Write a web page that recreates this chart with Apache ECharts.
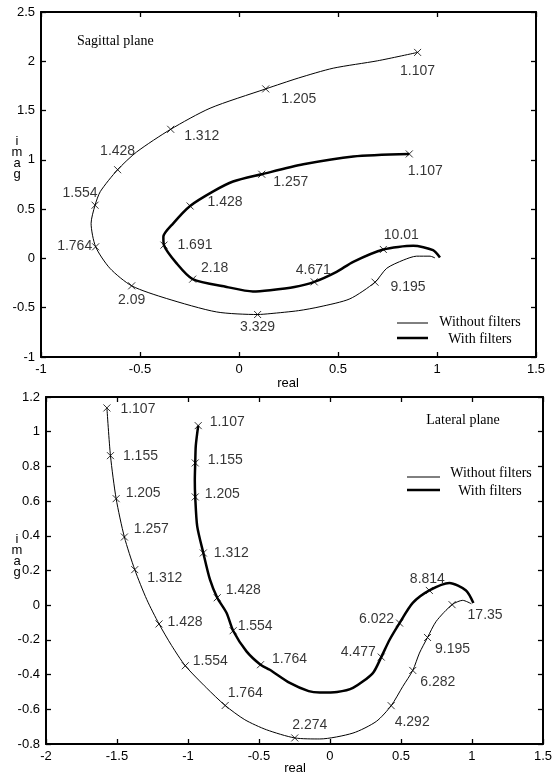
<!DOCTYPE html>
<html>
<head>
<meta charset="utf-8">
<script src="https://cdn.jsdelivr.net/npm/echarts@6/dist/echarts.min.js"></script>
<style>
html,body{margin:0;padding:0;background:#fff;}
#chart{width:555px;height:778px;}
</style>
</head>
<body>
<div id="chart"></div>
<script>
// ---------- Sagittal plane (top) ----------
const sagCurveWithout = [[0.902,2.09],[0.70,2.005],[0.476,1.93],[0.30,1.83],[0.135,1.72],[-0.146,1.524],[-0.345,1.31],[-0.517,1.08],[-0.613,0.90],[-0.70,0.68],[-0.727,0.54],[-0.747,0.356],[-0.724,0.118],[-0.652,-0.10],[-0.542,-0.278],[-0.365,-0.407],[-0.113,-0.543],[0.094,-0.569],[0.157,-0.56],[0.30,-0.53],[0.409,-0.49],[0.56,-0.41],[0.687,-0.241],[0.746,-0.10],[0.83,-0.017],[0.897,0.023],[0.965,0.023],[0.99,0.005]];
const sagMarksWithout = [[0.902,2.09],[0.135,1.72],[-0.345,1.31],[-0.613,0.90],[-0.727,0.54],[-0.724,0.118],[-0.542,-0.278],[0.094,-0.569],[0.687,-0.241]];
const sagLabelsWithout = ['1.107','1.205','1.312','1.428','1.554','1.764','2.09','3.329','9.195'];

const sagCurveWith = [[0.86,1.06],[0.577,1.035],[0.325,0.955],[0.115,0.854],[-0.03,0.78],[-0.13,0.68],[-0.247,0.532],[-0.332,0.356],[-0.382,0.22],[-0.379,0.135],[-0.315,-0.05],[-0.234,-0.21],[-0.062,-0.289],[0.07,-0.335],[0.157,-0.322],[0.28,-0.29],[0.38,-0.238],[0.493,-0.136],[0.577,-0.034],[0.729,0.091],[0.88,0.128],[0.98,0.084],[1.015,0.01]];
const sagMarksWith = [[0.86,1.06],[0.115,0.854],[-0.247,0.532],[-0.379,0.135],[-0.234,-0.21],[0.38,-0.238],[0.729,0.091]];
const sagLabelsWith = ['1.107','1.257','1.428','1.691','2.18','4.671','10.01'];

// ---------- Lateral plane (bottom) ----------
const latCurveWithout = [[-1.571,1.137],[-1.546,0.862],[-1.506,0.614],[-1.448,0.393],[-1.375,0.205],[-1.29,0.032],[-1.204,-0.108],[-1.115,-0.233],[-1.019,-0.349],[-0.869,-0.477],[-0.738,-0.578],[-0.60,-0.66],[-0.447,-0.718],[-0.248,-0.765],[-0.072,-0.771],[0.162,-0.737],[0.326,-0.67],[0.431,-0.579],[0.513,-0.468],[0.583,-0.376],[0.63,-0.276],[0.687,-0.186],[0.748,-0.093],[0.86,0.003],[0.935,0.028],[0.996,0.008]];
const latMarksWithout = [[-1.571,1.137],[-1.546,0.862],[-1.506,0.614],[-1.448,0.393],[-1.375,0.205],[-1.204,-0.108],[-1.019,-0.349],[-0.738,-0.578],[-0.248,-0.765],[0.431,-0.579],[0.583,-0.376],[0.687,-0.186],[0.86,0.003]];
const latLabelsWithout = ['1.107','1.155','1.205','1.257','1.312','1.428','1.554','1.764','2.274','4.292','6.282','9.195','17.35'];

const latCurveWith = [[-0.928,1.035],[-0.945,0.92],[-0.949,0.82],[-0.952,0.72],[-0.949,0.624],[-0.935,0.454],[-0.892,0.301],[-0.845,0.147],[-0.794,0.043],[-0.728,-0.045],[-0.682,-0.147],[-0.588,-0.266],[-0.489,-0.343],[-0.424,-0.372],[-0.283,-0.448],[-0.15,-0.495],[-0.072,-0.503],[0.05,-0.50],[0.162,-0.477],[0.302,-0.391],[0.361,-0.299],[0.42,-0.199],[0.49,-0.103],[0.583,0.013],[0.70,0.085],[0.841,0.128],[0.958,0.085],[1.01,0.013]];
const latMarksWith = [[-0.928,1.035],[-0.949,0.82],[-0.949,0.624],[-0.892,0.301],[-0.794,0.043],[-0.682,-0.147],[-0.489,-0.343],[0.361,-0.299],[0.49,-0.103],[0.70,0.085]];
const latLabelsWith = ['1.107','1.155','1.205','1.312','1.428','1.554','1.764','4.477','6.022','8.814'];

// axis ticks
const sagXTicks = {min:-1, max:1.5, interval:0.5};
const sagYTicks = {min:-1, max:2.5, interval:0.5};
const latXTicks = {min:-2, max:1.5, interval:0.5};
const latYTicks = {min:-0.8, max:1.2, interval:0.2};

// label offsets (px), style only
const sagOffWithout = [[0,19],[33,10],[31,7],[0,-19],[-15,-12],[-21,-1],[0,14],[0,13],[33,5]];
const sagOffWith = [[16,17],[29,8],[35,-4],[31,0],[22,-11],[-1,-12],[18,-14]];
const latOffWithout = [[31,1],[30,0],[27,-6],[27,-8],[30,9],[26,-2],[25,-5],[20,-12],[15,-13],[21,16],[25,12],[25,12],[33,10]];
const latOffWith = [[29,-3],[30,-3],[27,-3],[28,0],[26,-8],[22,-5],[29,-6],[-23,-5],[-23,-4],[-2,-11]];

const FONT = 'Liberation Sans, Arial, sans-serif';
const SERIF = 'Liberation Serif, Times New Roman, serif';
const crossSym = 'path://M0,0L10,10M10,0L0,10';

function markSeries(pts, labels, offs, idx) {
  return {
    type:'scatter', xAxisIndex:idx, yAxisIndex:idx,
    symbol: crossSym, symbolSize: 7,
    itemStyle:{color:'rgba(0,0,0,0)', borderColor:'#000', borderWidth:1},
    label:{show:true, position:'inside', formatter:'{b}', color:'#000', fontSize:14, fontFamily:FONT},
    data: pts.map((p,i)=>({name:labels[i], value:p, label:{offset:offs[i]}})),
    z:5, silent:true
  };
}
function lineSeries(pts, w, idx) {
  return {type:'line', xAxisIndex:idx, yAxisIndex:idx, data:pts, showSymbol:false, smooth:0.25,
    lineStyle:{color:'#000', width:w}, z:3, silent:true};
}
function mkAxis(t, grid, pos, showLabel) {
  return {type:'value', gridIndex:grid, position:pos, min:t.min, max:t.max, interval:t.interval,
    axisLine:{show:true, onZero:false, lineStyle:{color:'#000', width:2}},
    axisTick:{show:true, inside:true, length:5, lineStyle:{color:'#000', width:1.3}},
    axisLabel:{show:showLabel, color:'#000', fontSize:13, fontFamily:FONT, margin:6},
    splitLine:{show:false}};
}

const chart = echarts.init(document.getElementById('chart'));
const option = {
  backgroundColor:'#fff',
  animation:false,
  grid:[
    {left:41, top:12, width:495, height:345},
    {left:46, top:397, width:498, height:347}
  ],
  xAxis:[mkAxis(sagXTicks,0,'bottom',true), mkAxis(latXTicks,1,'bottom',true), mkAxis(sagXTicks,0,'top',false), mkAxis(latXTicks,1,'top',false)],
  yAxis:[mkAxis(sagYTicks,0,'left',true), mkAxis(latYTicks,1,'left',true), mkAxis(sagYTicks,0,'right',false), mkAxis(latYTicks,1,'right',false)],
  series:[
    lineSeries(sagCurveWithout,1,0),
    lineSeries(sagCurveWith,2.5,0),
    markSeries(sagMarksWithout, sagLabelsWithout, sagOffWithout, 0),
    markSeries(sagMarksWith, sagLabelsWith, sagOffWith, 0),
    lineSeries(latCurveWithout,1,1),
    lineSeries(latCurveWith,2.5,1),
    markSeries(latMarksWithout, latLabelsWithout, latOffWithout, 1),
    markSeries(latMarksWith, latLabelsWith, latOffWith, 1)
  ],
  graphic:[
    {type:'text', left:77, top:34, style:{text:'Sagittal plane', font:'14px '+SERIF, fill:'#000'}},
    {type:'text', x:288, y:383, style:{text:'real', font:'13px '+FONT, fill:'#000', textAlign:'center', textVerticalAlign:'middle'}},
    {type:'text', x:17, y:158, style:{text:'i\nm\na\ng', font:'13px '+FONT, fill:'#000', textAlign:'center', textVerticalAlign:'middle', lineHeight:11}},
    {type:'line', shape:{x1:397, y1:323, x2:428, y2:323}, style:{stroke:'#000', lineWidth:1}},
    {type:'line', shape:{x1:397, y1:338, x2:428, y2:338}, style:{stroke:'#000', lineWidth:2.5}},
    {type:'text', x:480, y:322, style:{text:'Without filters', font:'14px '+SERIF, fill:'#000', textAlign:'center', textVerticalAlign:'middle'}},
    {type:'text', x:480, y:339, style:{text:'With filters', font:'14px '+SERIF, fill:'#000', textAlign:'center', textVerticalAlign:'middle'}},

    {type:'text', x:463, y:420, style:{text:'Lateral plane', font:'14px '+SERIF, fill:'#000', textAlign:'center', textVerticalAlign:'middle'}},
    {type:'text', x:295, y:768, style:{text:'real', font:'13px '+FONT, fill:'#000', textAlign:'center', textVerticalAlign:'middle'}},
    {type:'text', x:17, y:556, style:{text:'i\nm\na\ng', font:'13px '+FONT, fill:'#000', textAlign:'center', textVerticalAlign:'middle', lineHeight:11}},
    {type:'line', shape:{x1:407, y1:477, x2:440, y2:477}, style:{stroke:'#000', lineWidth:1}},
    {type:'line', shape:{x1:407, y1:490, x2:440, y2:490}, style:{stroke:'#000', lineWidth:2.5}},
    {type:'text', x:491, y:473, style:{text:'Without filters', font:'14px '+SERIF, fill:'#000', textAlign:'center', textVerticalAlign:'middle'}},
    {type:'text', x:490, y:491, style:{text:'With filters', font:'14px '+SERIF, fill:'#000', textAlign:'center', textVerticalAlign:'middle'}}
  ]
};
chart.setOption(option);
</script>
</body>
</html>
